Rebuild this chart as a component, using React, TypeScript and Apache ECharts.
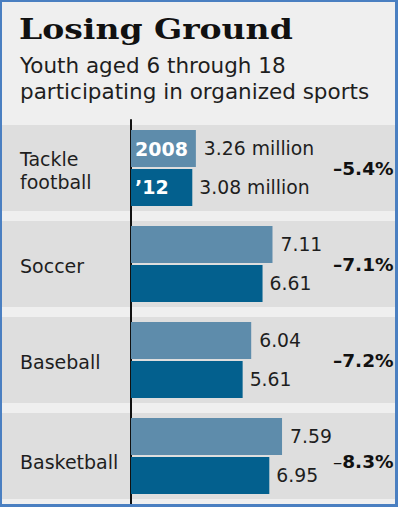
import React, { useEffect, useRef } from "react";
import * as echarts from "echarts";

const categories = ["Tackle\nfootball", "Soccer", "Baseball", "Basketball"];
const seriesNames = ["2008", "’12"];
const values2008 = [3.26, 7.11, 6.04, 7.59];
const values2012 = [3.08, 6.61, 5.61, 6.95];
const changeLabels = ["–5.4%", "–7.1%", "–7.2%", "–8.3%"];
const unitLabel = "million";
const titleText = "Losing Ground";
const subtitleLines = ["Youth aged 6 through 18", "participating in organized sports"];

const TEXT = "#1e1e1e";
const SANS = "DejaVu Sans";

export default function App() {
  const ref = useRef<HTMLDivElement>(null);
  useEffect(() => {
    document.body.style.margin = "0";
    const chart = echarts.init(ref.current!, null, { renderer: "svg" });
    const valueLabel = {
      show: true,
      position: "right",
      distance: 8,
      fontFamily: SANS,
      fontSize: 18.8,
      color: TEXT,
      formatter: (p: any) =>
        p.dataIndex === 0 ? `${p.value.toFixed(2)} ${unitLabel}` : p.value.toFixed(2),
    };
    const yearLabel = (name: string) => ({
      show: true,
      position: "insideLeft",
      distance: 4,
      fontFamily: SANS,
      fontWeight: "bold",
      fontSize: 19,
      color: "#fff",
      formatter: (p: any) => (p.dataIndex === 0 ? name : ""),
    });
    const last = categories.length - 1;
    const border = "#4a7fc1";
    const catRich = {
      width: 100,
      align: "left",
      fontFamily: SANS,
      fontSize: 19,
      lineHeight: 23,
      color: TEXT,
    };
    const pctRich = { fontFamily: SANS, fontWeight: "bold", fontSize: 18.5, color: "#111" };
    const option: any = {
      animation: false,
      backgroundColor: "#efefef",
      grid: {
        left: 2,
        right: 3,
        top: 120,
        bottom: 3,
        containLabel: false,
        outerBoundsMode: "none",
      },
      xAxis: { type: "value", min: -6.4824, max: 13.2663, show: false },
      yAxis: [
        {
          type: "category",
          data: categories,
          inverse: true,
          axisLine: { show: true, onZero: true, lineStyle: { color: "#111", width: 2 } },
          axisTick: { show: false },
          axisLabel: {
            margin: -118,
            fontFamily: SANS,
            fontSize: 19,
            lineHeight: 23,
            color: TEXT,
            formatter: (v: string, i: number) =>
              v
                .split("\n")
                .map((line) => `{${i === last ? "lo" : "a"}|${line}}`)
                .join("\n"),
            rich: {
              a: { ...catRich, padding: [4, 0, 0, 0] },
              lo: { ...catRich, padding: [11, 0, 0, 0] },
            },
          },
          splitArea: { show: true, areaStyle: { color: ["#dedede"] } },
          splitLine: { show: true, lineStyle: { color: "#efefef", width: 10 } },
        },
        {
          type: "category",
          data: categories,
          inverse: true,
          position: "right",
          axisLine: { show: false, onZero: false },
          axisTick: { show: false },
          splitLine: { show: false },
          axisLabel: {
            align: "left",
            margin: -62,
            fontFamily: SANS,
            fontWeight: "bold",
            fontSize: 18.5,
            color: "#111",
            formatter: (_v: string, i: number) => {
              const s = changeLabels[i];
              return i === last ? `{td|${s[0]}}{tb|${s.slice(1)}}` : `{b|${s}}`;
            },
            rich: {
              b: pctRich,
              td: { ...pctRich, fontWeight: "normal", padding: [11, 0, 0, 0] },
              tb: { ...pctRich, padding: [11, 0, 0, 0] },
            },
          },
        },
      ],
      series: [
        {
          name: seriesNames[0],
          type: "bar",
          yAxisIndex: 0,
          data: values2008,
          barWidth: 37,
          barGap: "5%",
          itemStyle: { color: "#5e8cab" },
          label: valueLabel,
        },
        {
          name: seriesNames[1],
          type: "bar",
          yAxisIndex: 0,
          data: values2012,
          barWidth: 37,
          barGap: "5%",
          itemStyle: { color: "#03608e" },
          label: { ...valueLabel, distance: 7 },
        },
        {
          name: seriesNames[0] + " tag",
          type: "bar",
          yAxisIndex: 1,
          data: values2008,
          barWidth: 37,
          barGap: "5%",
          silent: true,
          itemStyle: { color: "rgba(0,0,0,0)" },
          label: yearLabel(seriesNames[0]),
        },
        {
          name: seriesNames[1] + " tag",
          type: "bar",
          yAxisIndex: 1,
          data: values2012,
          barWidth: 37,
          barGap: "5%",
          silent: true,
          itemStyle: { color: "rgba(0,0,0,0)" },
          label: yearLabel(seriesNames[1]),
        },
      ],
      graphic: [
        {
          type: "text",
          x: 19,
          y: 29,
          scaleX: 1.18,
          style: {
            text: titleText,
            fontFamily: "DejaVu Serif",
            fontWeight: "bold",
            fontSize: 28,
            fill: "#111",
            verticalAlign: "middle",
          },
        },
        {
          type: "text",
          x: 20,
          y: 65.5,
          style: { text: subtitleLines[0], fontFamily: SANS, fontSize: 21.5, fill: TEXT, verticalAlign: "middle" },
        },
        {
          type: "text",
          x: 20,
          y: 91.5,
          style: { text: subtitleLines[1], fontFamily: SANS, fontSize: 21.5, fill: TEXT, verticalAlign: "middle" },
        },
        { type: "rect", z: 100, shape: { x: 0, y: 0, width: 2, height: 507 }, style: { fill: border } },
        { type: "rect", z: 100, shape: { x: 0, y: 0, width: 398, height: 2 }, style: { fill: border } },
        { type: "rect", z: 100, shape: { x: 395, y: 0, width: 3, height: 507 }, style: { fill: border } },
        { type: "rect", z: 100, shape: { x: 0, y: 504, width: 398, height: 3 }, style: { fill: border } },
      ],
    };
    chart.setOption(option);
    return () => chart.dispose();
  }, []);
  return <div ref={ref} style={{ width: 398, height: 507 }} />;
}
